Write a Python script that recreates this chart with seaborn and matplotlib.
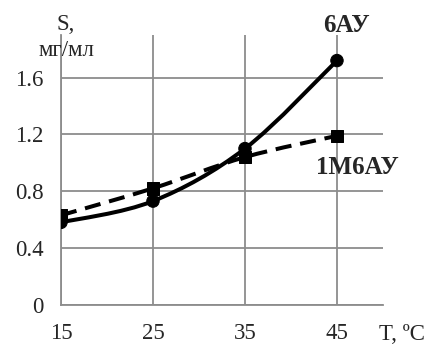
import numpy as np
import pandas as pd
import matplotlib
matplotlib.use("Agg")
import matplotlib.pyplot as plt
import seaborn as sns
from matplotlib.path import Path
from matplotlib.patches import PathPatch

temps = [15, 25, 35, 45]
s_6au = [0.58, 0.73, 1.10, 1.72]
s_1m6au = [0.63, 0.82, 1.04, 1.19]
y_ticks = [0, 0.4, 0.8, 1.2, 1.6]

df = pd.DataFrame({
    "T": temps * 2,
    "S": s_6au + s_1m6au,
    "series": ["6АУ"] * 4 + ["1М6АУ"] * 4,
})

sns.set_style("white")
plt.rcParams["font.family"] = ["Liberation Serif", "DejaVu Serif"]

fig = plt.figure(figsize=(4.28, 3.44), dpi=100)
ax = fig.add_axes([0.1425, 0.1142, 0.7523, 0.784])

grid_c = "#8c8c8c"


def smooth_path(xs, ys):
    # excel-like smoothed line: cubic bezier through the data points
    pts = np.column_stack([xs, ys]).astype(float)
    ext = np.vstack([pts[0], pts, pts[-1]])
    verts = [pts[0]]
    codes = [Path.MOVETO]
    for i in range(len(pts) - 1):
        p0, p1, p2, p3 = ext[i], ext[i + 1], ext[i + 2], ext[i + 3]
        verts += [p1 + (p2 - p0) / 6, p2 - (p3 - p1) / 6, p2]
        codes += [Path.CURVE4] * 3
    return Path(verts, codes)


for name, ls in [("6АУ", "-"), ("1М6АУ", (0, (4.0, 2.2)))]:
    sub = df[df["series"] == name]
    ax.add_patch(PathPatch(smooth_path(sub["T"], sub["S"]), fill=False,
                           edgecolor="black", lw=2.9, linestyle=ls, zorder=3,
                           capstyle="butt"))

sns.scatterplot(data=df, x="T", y="S", style="series",
                markers={"6АУ": "o", "1М6АУ": "s"}, color="black",
                s=80, edgecolor="black", legend=False, zorder=4, ax=ax)

ax.set_xlim(15, 50)
ax.set_ylim(0, 1.9)
ax.set_xticks(temps)
ax.set_yticks(y_ticks)
ax.set_yticklabels(["0", "0.4", "0.8", "1.2", "1.6"])
ax.grid(True, color=grid_c, lw=1.3)
ax.set_axisbelow(True)
for side in ["top", "right"]:
    ax.spines[side].set_visible(False)
for side in ["left", "bottom"]:
    ax.spines[side].set_color(grid_c)
    ax.spines[side].set_linewidth(1.3)
ax.tick_params(axis="both", length=4.5, width=1.3, color=grid_c,
               labelsize=16.5, direction="out")
ax.tick_params(axis="y", pad=8)
ax.tick_params(axis="x", pad=9)
ax.set_xlabel("")
ax.set_ylabel("")

fig.text(66 / 428, 1 - 24 / 344, "S,", fontsize=16.5, ha="center", va="center")
fig.text(66 / 428, 1 - 51 / 344, "мг/мл", fontsize=16.5, ha="center", va="center")
fig.text(402 / 428, 1 - 334 / 344, "T, ºC", fontsize=16.5, ha="center", va="center")
fig.text(346 / 428, 1 - 25 / 344, "6АУ", fontsize=18, fontweight="bold",
         ha="center", va="center")
fig.text(357 / 428, 1 - 168 / 344, "1М6АУ", fontsize=18, fontweight="bold",
         ha="center", va="center")

fig.savefig("out.png", dpi=100)
